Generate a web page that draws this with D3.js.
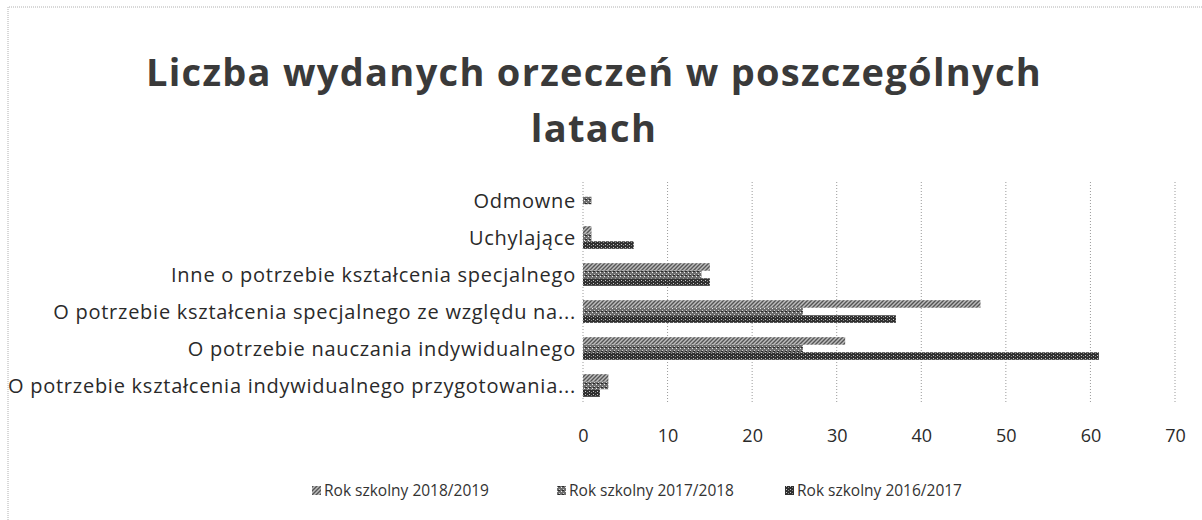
<!DOCTYPE html>
<html>
<head>
<meta charset="utf-8">
<script src="https://cdn.jsdelivr.net/npm/d3@7"></script>
<style>
  body { margin: 0; background: #fff; }
  svg { display: block; font-family: "Open Sans", Lato, sans-serif; }
  .grid line { stroke: #9a9a9a; stroke-dasharray: 1,2; }
  .cat { fill: #2a2a2a; font-size: 20px; letter-spacing: 0.75px; }
</style>
</head>
<body>
<div id="chart"></div>
<script>
// data
var categories = [
  'Odmowne',
  'Uchylające',
  'Inne o potrzebie kształcenia specjalnego',
  'O potrzebie kształcenia specjalnego ze względu na...',
  'O potrzebie nauczania indywidualnego',
  'O potrzebie kształcenia indywidualnego przygotowania...'
]
var seriesNames = ['Rok szkolny 2018/2019', 'Rok szkolny 2017/2018', 'Rok szkolny 2016/2017']
var values2018 = [0, 1, 15, 47, 31, 3]
var values2017 = [1, 1, 14, 26, 26, 3]
var values2016 = [0, 6, 15, 37, 61, 2]
var xTicks = [0, 10, 20, 30, 40, 50, 60, 70]

var seriesValues = [values2018, values2017, values2016]
var patternIds = ['p2018', 'p2017', 'p2016']

var width = 1202
var height = 520

var svg = d3.select('#chart').append('svg')
  .attr('width', width)
  .attr('height', height)

// scanned-looking pattern fills
var defs = svg.append('defs')

var p1 = defs.append('pattern').attr('id', 'p2018')
  .attr('patternUnits', 'userSpaceOnUse').attr('width', 4).attr('height', 4)
p1.append('rect').attr('width', 4).attr('height', 4).attr('fill', '#bdbdbd')
p1.append('path').attr('d', 'M-1,1 l2,-2 M0,4 l4,-4 M3,5 l2,-2')
  .attr('stroke', '#555').attr('stroke-width', 1.4)

var p2 = defs.append('pattern').attr('id', 'p2017')
  .attr('patternUnits', 'userSpaceOnUse').attr('width', 4).attr('height', 4)
p2.append('rect').attr('width', 4).attr('height', 4).attr('fill', '#6e6e6e')
p2.append('rect').attr('x', 0).attr('y', 0).attr('width', 1).attr('height', 1).attr('fill', '#eee')
p2.append('rect').attr('x', 2).attr('y', 2).attr('width', 1).attr('height', 1).attr('fill', '#d0d0d0')
p2.append('rect').attr('x', 1).attr('y', 3).attr('width', 2).attr('height', 1).attr('fill', '#2a2a2a')

var p3 = defs.append('pattern').attr('id', 'p2016')
  .attr('patternUnits', 'userSpaceOnUse').attr('width', 4).attr('height', 3)
p3.append('rect').attr('width', 4).attr('height', 3).attr('fill', '#303030')
p3.append('rect').attr('x', 1).attr('y', 1).attr('width', 1).attr('height', 1).attr('fill', '#c8c8c8')
p3.append('rect').attr('x', 3).attr('y', 2).attr('width', 1).attr('height', 1).attr('fill', '#888')

// chart border (only top/left visible on the scan)
svg.append('path')
  .attr('d', 'M8,' + height + ' V7 H' + width)
  .attr('fill', 'none')
  .attr('stroke', '#b0b0b0')
  .attr('stroke-dasharray', '1,1')

// title
var title = svg.append('text')
  .attr('text-anchor', 'middle')
  .attr('font-size', 38)
  .attr('font-weight', 'bold')
  .attr('letter-spacing', 1.3)
  .attr('fill', '#3a3a3a')
title.append('tspan').attr('x', 594).attr('y', 86).text('Liczba wydanych orzeczeń w poszczególnych')
title.append('tspan').attr('x', 594).attr('y', 142).text('latach')

var x = d3.scaleLinear().domain([0, 70]).range([583, 1175])

var y = d3.scaleBand().domain(categories).range([182, 404])

var inner = d3.scaleBand().domain(seriesNames)
  .range([0, y.bandwidth()])
  .paddingOuter(0.95)

// grid lines
svg.append('g').attr('class', 'grid')
  .selectAll('line')
  .data(xTicks)
  .enter().append('line')
  .attr('x1', function (d) { return x(d) })
  .attr('x2', function (d) { return x(d) })
  .attr('y1', y.range()[0])
  .attr('y2', y.range()[1])

// bars
var groups = svg.append('g').selectAll('g')
  .data(seriesNames)
  .enter().append('g')
  .attr('fill', function (d, i) { return 'url(#' + patternIds[i] + ')' })

groups.each(function (name, i) {
  d3.select(this).selectAll('rect')
    .data(seriesValues[i])
    .enter().append('rect')
    .attr('x', x(0))
    .attr('y', function (d, j) { return y(categories[j]) + inner(name) })
    .attr('width', function (d) { return x(d) - x(0) })
    .attr('height', inner.bandwidth())
})

// category labels
svg.append('g').selectAll('text')
  .data(categories)
  .enter().append('text')
  .attr('class', 'cat')
  .attr('x', 576)
  .attr('y', function (d) { return y(d) + y.bandwidth() / 2 })
  .attr('dy', '0.35em')
  .attr('text-anchor', 'end')
  .text(function (d) { return d })

// x axis labels
var xAxis = d3.axisBottom(x).tickValues(xTicks).tickSize(0).tickPadding(0)
var ax = svg.append('g')
  .attr('transform', 'translate(0,' + 429 + ')')
  .call(xAxis)
ax.select('.domain').remove()
ax.selectAll('text')
  .attr('font-family', '"Open Sans", sans-serif')
  .attr('font-size', 18)
  .attr('fill', '#2a2a2a')

// legend
var legendX = [312, 557, 785]
var legend = svg.append('g').selectAll('g')
  .data(seriesNames)
  .enter().append('g')
  .attr('transform', function (d, i) { return 'translate(' + legendX[i] + ',' + 491 + ')' })
legend.append('rect')
  .attr('x', 0).attr('y', -5)
  .attr('width', 9).attr('height', 9)
  .attr('fill', function (d, i) { return 'url(#' + patternIds[i] + ')' })
legend.append('text')
  .attr('x', 12)
  .attr('dy', '0.35em')
  .attr('font-size', 15.5)
  .attr('fill', '#333')
  .text(function (d) { return d })
</script>
</body>
</html>
